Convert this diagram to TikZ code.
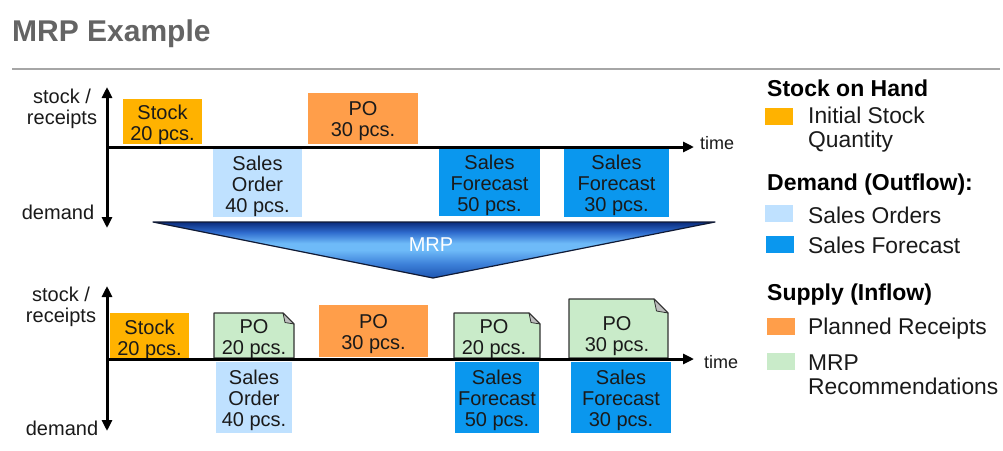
\documentclass[tikz,border=0pt]{standalone}
\usepackage{fontspec}
\setmainfont{Liberation Sans}
\usetikzlibrary{arrows.meta}
\definecolor{stockor}{HTML}{FFB200}
\definecolor{poor}{HTML}{FF9E4A}
\definecolor{solb}{HTML}{BFE1FF}
\definecolor{sfb}{HTML}{0A97EE}
\definecolor{mrpg}{HTML}{C9EBC9}
\definecolor{titleg}{HTML}{646464}
\definecolor{txt}{HTML}{1A1A1A}
\definecolor{tridark}{HTML}{0B2C7C}
\definecolor{triup}{HTML}{2E6ACD}
\definecolor{trimid}{HTML}{6EBAF8}
\definecolor{trilow}{HTML}{3E82DA}
\definecolor{tribot}{HTML}{1D54B0}
\definecolor{triedge}{HTML}{101A35}
\pgfdeclareverticalshading{mrpshade}{100bp}{color(0bp)=(tribot); color(25bp)=(tribot); color(38bp)=(trilow); color(50bp)=(trimid); color(56bp)=(trimid); color(66bp)=(triup); color(75bp)=(tridark); color(100bp)=(tridark)}
\begin{document}
\begin{tikzpicture}[x=1pt,y=-1pt,
  boxtxt/.style={font=\fontsize{20}{21}\selectfont, text=txt, align=center, inner sep=0pt},
  lbl/.style={boxtxt, yshift=-3pt},
  blk/.style={draw=none, inner sep=0pt, minimum width=#1},
  doc/.style={fill=mrpg, draw=black!80, line width=1.1pt, line join=round},
  fold/.style={fill=black!25, draw=black!80, line width=0.8pt, line join=round},
  axis/.style={line width=3pt, -{Triangle[length=11pt,width=10pt]}},
  axis2/.style={line width=3pt, {Triangle[length=11pt,width=10pt]}-{Triangle[length=11pt,width=10pt]}},
  axlbl/.style={font=\fontsize{20}{21}\selectfont, text=txt, align=center, inner sep=0pt},
  timelbl/.style={font=\fontsize{18}{20}\selectfont, text=txt, inner sep=0pt, anchor=west},
  leghead/.style={font=\fontsize{23}{24}\selectfont\bfseries, text=black, inner sep=0pt, anchor=west},
  legtxt/.style={font=\fontsize{22.8}{24}\selectfont, text=txt, inner sep=0pt, anchor=west, align=left},
  legsq/.style={inner sep=0pt, minimum width=28pt, minimum height=17pt}
]
\useasboundingbox (0,0) rectangle (1003,450);
\fill[white] (0,0) rectangle (1003,450);

% title
\node[font=\fontsize{30}{32}\selectfont\bfseries, text=titleg, inner sep=0pt, anchor=base west] (title) at (12,41) {MRP Example};
\draw[black!35, line width=1.5pt] (12,69) -- (1000,69);

% ---------- top diagram ----------
\coordinate (tvtop) at (107,87);
\coordinate (tvbot) at (107,228);
\coordinate (thl) at (107,147);
\coordinate (thr) at (694,147);

\node[blk=79pt, fill=stockor, minimum height=45pt] (ts) at (162.5,121.5) {};
\node[lbl] (tst) at (162.5,122) {Stock\\20 pcs.};
\node[blk=110pt, fill=poor, minimum height=51pt] (tpo) at (363,118.5) {};
\node[lbl] (tpot) at (tpo) {PO\\30 pcs.};
\node[blk=89pt, fill=solb, minimum height=68pt] (tso) at (257.5,183) {};
\node[lbl] (tsot) at (tso) {Sales\\Order\\40 pcs.};
\node[blk=101pt, fill=sfb, minimum height=68pt] (tsf1) at (489.5,182) {};
\node[lbl] (tsf1t) at (tsf1) {Sales\\Forecast\\50 pcs.};
\node[blk=105pt, fill=sfb, minimum height=69pt] (tsf2) at (616.5,182.5) {};
\node[lbl] (tsf2t) at (tsf2) {Sales\\Forecast\\30 pcs.};

\draw[axis2] (tvbot) -- (tvtop);
\draw[axis] (thl) -- (thr);
\node[timelbl] (ttime) at (700,143) {time};
\node[axlbl] (tsr) at (62,109) {stock /\\receipts};
\node[axlbl] (tdem) at (58,212) {demand};

% ---------- MRP triangle ----------
\shade[shading=mrpshade] (153,222) -- (715,222) -- (433,278) -- cycle;
\draw[triedge, line width=1.2pt, line join=round] (153,222) -- (715,222) -- (433,278) -- cycle;
\node[font=\fontsize{20}{22}\selectfont, text=white, inner sep=0pt] (mrp) at (431,245) {MRP};

% ---------- bottom diagram ----------
\coordinate (bvtop) at (107,286);
\coordinate (bvbot) at (107,431);
\coordinate (bhl) at (107,359);
\coordinate (bhr) at (694,359);

\node[blk=79pt, fill=stockor, minimum height=45pt] (bs) at (149.5,335) {};
\node[lbl] (bst) at (149.5,337) {Stock\\20 pcs.};
\node[blk=109pt, fill=poor, minimum height=52pt] (bpo) at (373.5,331) {};
\node[lbl] (bpot) at (bpo) {PO\\30 pcs.};

% MRP recommendation documents
\filldraw[doc] (214,358) -- (214,313) -- (283,313) -- (294,324) -- (294,358) -- cycle;
\filldraw[fold] (283,313) -- (285,322.5) -- (294,324) -- cycle;
\node[lbl] (bpo1) at (254,336) {PO\\20 pcs.};

\filldraw[doc] (454,358) -- (454,313) -- (529,313) -- (540,324) -- (540,358) -- cycle;
\filldraw[fold] (529,313) -- (531,322.5) -- (540,324) -- cycle;
\node[lbl] (bpo2) at (494,336) {PO\\20 pcs.};

\filldraw[doc] (569,358) -- (569,299) -- (654,299) -- (668,313) -- (668,358) -- cycle;
\filldraw[fold] (654,299) -- (656.5,311) -- (668,313) -- cycle;
\node[lbl] (bpo3) at (617,333) {PO\\30 pcs.};

\node[blk=76pt, fill=solb, minimum height=71pt] (bso) at (254,397.5) {};
\node[lbl] (bsot) at (bso) {Sales\\Order\\40 pcs.};
\node[blk=84pt, fill=sfb, minimum height=71pt] (bsf1) at (497,397.5) {};
\node[lbl] (bsf1t) at (bsf1) {Sales\\Forecast\\50 pcs.};
\node[blk=100pt, fill=sfb, minimum height=71pt] (bsf2) at (621,397.5) {};
\node[lbl] (bsf2t) at (bsf2) {Sales\\Forecast\\30 pcs.};

\draw[axis2] (bvbot) -- (bvtop);
\draw[axis] (bhl) -- (bhr);
\node[timelbl] (btime) at (704,362) {time};
\node[axlbl] (bsr) at (61,307) {stock /\\receipts};
\node[axlbl] (bdem) at (62,428) {demand};

% ---------- legend ----------
\node[leghead] (lh1) at (767,88) {Stock on Hand};
\node[legsq, fill=stockor] (lsq1) at (779,116.5) {};
\node[legtxt] (lt1) at (808,130) {Initial Stock\\Quantity};

\node[leghead] (lh2) at (767,185) {Demand (Outflow):};
\node[legsq, fill=solb] (lsq2) at (779,213.5) {};
\node[legtxt] (lt2) at (808,215.5) {Sales Orders};
\node[legsq, fill=sfb] (lsq3) at (780,244) {};
\node[legtxt] (lt3) at (808,245.5) {Sales Forecast};

\node[leghead] (lh3) at (767,295) {Supply (Inflow)};
\node[legsq, fill=poor] (lsq4) at (780.5,326.5) {};
\node[legtxt] (lt4) at (808,328.5) {Planned Receipts};
\node[legsq, fill=mrpg] (lsq5) at (780.5,361) {};
\node[legtxt] (lt5) at (808,375) {MRP\\Recommendations};
\end{tikzpicture}
\end{document}
